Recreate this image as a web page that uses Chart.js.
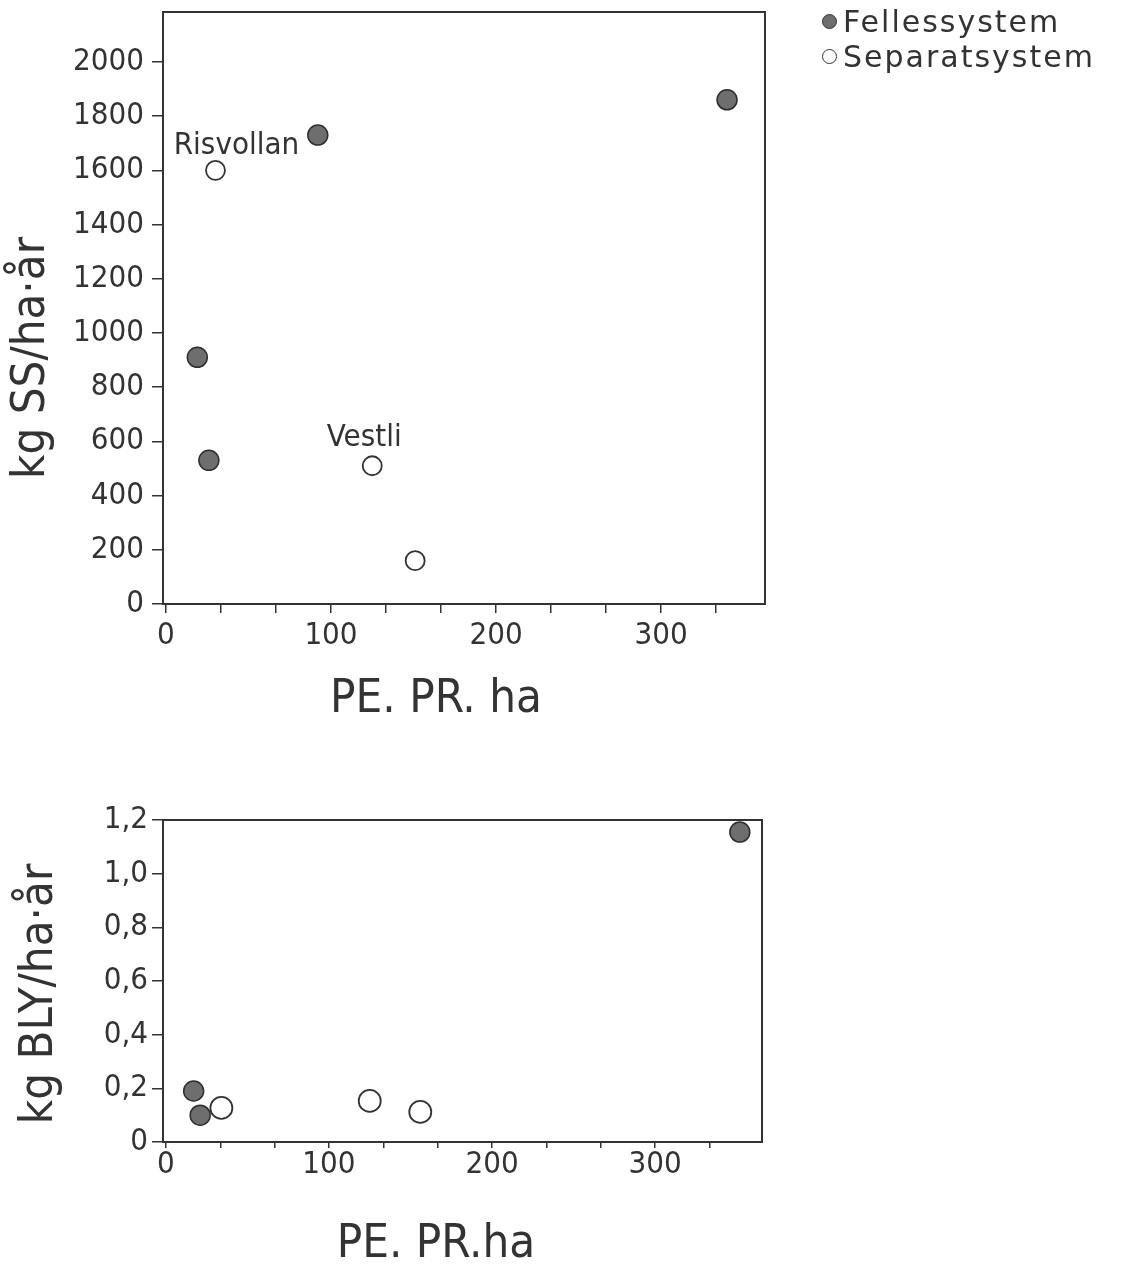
<!DOCTYPE html>
<html>
<head>
<meta charset="utf-8">
<script src="https://cdn.jsdelivr.net/npm/chart.js@4/dist/chart.umd.min.js"></script>
<style>
  body { margin: 0; background: #fff; width: 1121px; height: 1271px; position: relative; overflow: hidden; }
  canvas { position: absolute; left: 0; }
  #ss-chart { top: 0; }
  #bly-chart { top: 790px; }
  .legend { position: absolute; left: 822px; top: 4px; font: 30px "DejaVu Sans", sans-serif; color: #333; letter-spacing: 2px; line-height: 35px; }
  .legend span.dot { display: inline-block; width: 15px; height: 15px; border-radius: 50%; margin-right: 6px; vertical-align: 3px; box-sizing: border-box; }
</style>
</head>
<body>
<canvas id="ss-chart" width="1121" height="740"></canvas>
<canvas id="bly-chart" width="1121" height="481"></canvas>
<div class="legend">
  <div><span class="dot" style="background:#6e6e6e;border:1.5px solid #333"></span>Fellessystem</div>
  <div><span class="dot" style="background:#fff;border:1.5px solid #333"></span>Separatsystem</div>
</div>
<script>
// series names
const seriesNames = ["Fellessystem", "Separatsystem"];

// upper chart: kg SS / ha·år against PE. PR. ha
const ssFellesX = [92, 340, 19, 26];
const ssFellesY = [1730, 1860, 910, 530];
const ssSeparatX = [30, 125, 151];
const ssSeparatY = [1600, 510, 160];
const ssSeparatNames = ["Risvollan", "Vestli", ""];
const ssYTicks = [0, 200, 400, 600, 800, 1000, 1200, 1400, 1600, 1800, 2000];

// lower chart: kg BLY / ha·år against PE. PR. ha
const blyFellesX = [17, 21, 352];
const blyFellesY = [0.19, 0.10, 1.155];
const blySeparatX = [34, 125, 156];
const blySeparatY = [0.127, 0.153, 0.112];
const blyYTicks = [0, 0.2, 0.4, 0.6, 0.8, 1.0, 1.2];
const blyYLabels = ["0", "0,2", "0,4", "0,6", "0,8", "1,0", "1,2"];

// x axis: labelled every 100, small ticks every third of that
const xLabelTicks = [0, 100, 200, 300];
const xMinorPerLabel = 3;

const ink = "#333";
const tickFont = { family: '"Liberation Sans Narrow", "DejaVu Sans Condensed", sans-serif', size: 31 };

let toPoints = function(xs, ys) {
  return xs.map((x, i) => ({ x: x, y: ys[i] }));
};

let xTickValues = function(max) {
  let out = [];
  let step = (xLabelTicks[1] - xLabelTicks[0]) / xMinorPerLabel;
  for (let i = 0; i * step <= max; i++) out.push({ value: i * step });
  return out;
};

// frame, free axis titles and point names
const paperPlugin = {
  id: "paper",
  afterDraw(chart, args, opts) {
    const ctx = chart.ctx;
    const a = chart.chartArea;
    ctx.save();
    ctx.strokeStyle = ink;
    ctx.lineWidth = 2;
    ctx.strokeRect(a.left, a.top, a.right - a.left, a.bottom - a.top);

    ctx.fillStyle = ink;
    ctx.textAlign = "center";
    ctx.textBaseline = "middle";
    ctx.font = '47px "DejaVu Sans Condensed", sans-serif';
    ctx.fillText(opts.xTitle, opts.xTitlePos[0], opts.xTitlePos[1]);

    ctx.save();
    ctx.translate(opts.yTitlePos[0], opts.yTitlePos[1]);
    ctx.rotate(-Math.PI / 2);
    ctx.font = '47px "DejaVu Sans Condensed", sans-serif';
    ctx.fillText(opts.yTitle, 0, 0);
    ctx.restore();

    if (opts.names) {
      let meta = chart.getDatasetMeta(1);
      ctx.font = '31px "DejaVu Sans Condensed", sans-serif';
      opts.names.forEach((name, i) => {
        if (!name) return;
        let p = meta.data[i];
        let off = opts.nameOffsets[i];
        ctx.fillText(name, p.x + off[0], p.y + off[1]);
      });
    }
    ctx.restore();
  }
};

let makeChart = function(id, cfg) {
  return new Chart(id, {
    type: "scatter",
    data: {
      datasets: [
        {
          label: seriesNames[0],
          data: cfg.felles,
          pointRadius: 10,
          pointBackgroundColor: "#6e6e6e",
          pointBorderColor: "#2e2e2e",
          pointBorderWidth: 1.5
        },
        {
          label: seriesNames[1],
          data: cfg.separat,
          pointRadius: cfg.openRadius,
          pointBackgroundColor: "#fff",
          pointBorderColor: "#333",
          pointBorderWidth: 1.8
        }
      ]
    },
    options: {
      responsive: false,
      animation: false,
      layout: { padding: cfg.padding },
      plugins: {
        legend: { display: false },
        tooltip: { enabled: false },
        paper: cfg.paper
      },
      scales: {
        x: {
          min: cfg.xMin,
          max: cfg.xMax,
          afterBuildTicks: function(scale) { scale.ticks = xTickValues(cfg.xMax); },
          afterFit: function(scale) {
            scale.height = cfg.xAxisHeight;
            scale.paddingLeft = 0;
            scale.paddingRight = 0;
          },
          border: { display: false },
          grid: { drawOnChartArea: false, tickLength: cfg.xTickLength, color: ink, lineWidth: 1.5 },
          ticks: {
            color: ink,
            font: tickFont,
            padding: cfg.xTickPadding,
            maxRotation: 0,
            autoSkip: false,
            callback: function(v) {
              let r = Math.round(v);
              return xLabelTicks.includes(r) && Math.abs(v - r) < 0.01 ? String(r) : "";
            }
          }
        },
        y: {
          min: cfg.yMin,
          max: cfg.yMax,
          afterBuildTicks: function(scale) { scale.ticks = cfg.yTicks.map(v => ({ value: v })); },
          afterFit: function(scale) {
            scale.width = 163;
            scale.paddingTop = 0;
            scale.paddingBottom = 0;
          },
          border: { display: false },
          grid: { drawOnChartArea: false, tickLength: 11, color: ink, lineWidth: 1.5 },
          ticks: {
            color: ink,
            font: tickFont,
            padding: cfg.yTickPadding,
            autoSkip: false,
            callback: cfg.yLabel
          }
        }
      }
    },
    plugins: [paperPlugin]
  });
};

makeChart("ss-chart", {
  felles: toPoints(ssFellesX, ssFellesY),
  separat: toPoints(ssSeparatX, ssSeparatY),
  openRadius: 9.5,
  padding: { top: 12, right: 356, left: 0, bottom: 0 },
  xMin: -1.8, xMax: 363,
  yMin: 0, yMax: 2184,
  yTicks: ssYTicks,
  yLabel: function(v) { return String(v); },
  xAxisHeight: 136,
  xTickLength: 9,
  xTickPadding: 4,
  yTickPadding: 8,
  paper: {
    xTitle: "PE. PR. ha",
    xTitlePos: [436, 700],
    yTitle: "kg SS/ha·år",
    yTitlePos: [32, 358],
    names: ssSeparatNames,
    nameOffsets: [[21, -24], [-8, -28], [0, 0]]
  }
});

makeChart("bly-chart", {
  felles: toPoints(blyFellesX, blyFellesY),
  separat: toPoints(blySeparatX, blySeparatY),
  openRadius: 11,
  padding: { top: 30, right: 359, left: 0, bottom: 0 },
  xMin: -1.8, xMax: 365.6,
  yMin: 0, yMax: 1.2,
  yTicks: blyYTicks,
  yLabel: function(v) {
    let i = blyYTicks.findIndex(t => Math.abs(t - v) < 1e-6);
    return i >= 0 ? blyYLabels[i] : "";
  },
  xAxisHeight: 129,
  xTickLength: 6,
  xTickPadding: -2,
  yTickPadding: 4,
  paper: {
    xTitle: "PE. PR.ha",
    xTitlePos: [436, 455],
    yTitle: "kg BLY/ha·år",
    yTitlePos: [40, 204]
  }
});
</script>
</body>
</html>
